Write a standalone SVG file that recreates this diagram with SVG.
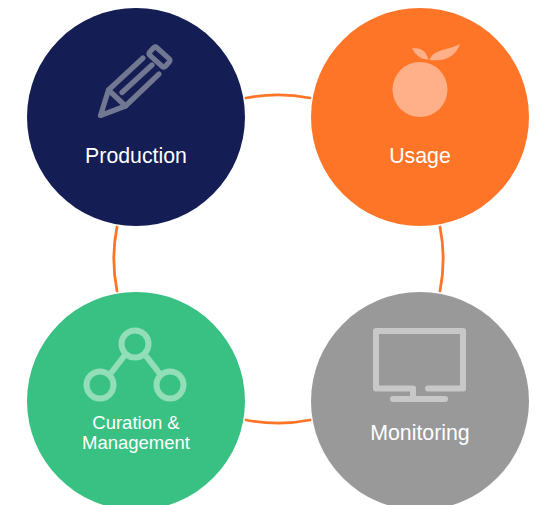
<svg xmlns="http://www.w3.org/2000/svg" width="540" height="505" viewBox="0 0 540 505">
<style>
text{font-family:"Liberation Sans",Arial,sans-serif;fill:#fff;text-anchor:middle}
.lbl{font-size:21.300px}
.small{font-size:18.500px}
.arc{fill:none;stroke:#ff7528;stroke-width:2.800;stroke-linecap:round}
.ic{fill:none;stroke-linecap:round;stroke-linejoin:round}
</style>
<rect width="540" height="505" fill="#fff"/>
<g id="connectors">
<path class="arc" d="M246 98A164.500 164.500 0 0 1 310 98"/>
<path class="arc" d="M440 227A164.500 164.500 0 0 1 440 291"/>
<path class="arc" d="M310 420A164.500 164.500 0 0 1 246 420"/>
<path class="arc" d="M117 291A164.500 164.500 0 0 1 117 227"/>
</g>
<g id="production">
<circle cx="136" cy="117" r="109" fill="#141e55"/>
<g class="ic" stroke="#727891" stroke-width="5.200">
<rect x="-10.500" y="-5.200" width="21" height="10.400" rx="2" transform="translate(159.500 57) rotate(42)"/>
<path d="M143 58L108.500 90L100.500 115.500L125.500 106L159 74"/>
<path d="M108.500 90L125.500 106"/>
<path d="M122 92.500L152 65"/>
</g>
<text class="lbl" x="136" y="163">Production</text>
</g>
<g id="usage">
<circle cx="420" cy="117" r="109" fill="#ff7528"/>
<circle cx="420" cy="89.500" r="27.500" fill="#ffb088"/>
<path d="M412 48.500C421 47 426 51 428.500 59.500C420 59.500 416 55 412 48.500Z" fill="#ffb088"/>
<path d="M460 44C456 55 447 62 429.500 60C434 49 446 51 460 44Z" fill="#ffb088"/>
<text class="lbl" x="420" y="163">Usage</text>
</g>
<g id="curation-management">
<circle cx="136" cy="401" r="109" fill="#39c183"/>
<g class="ic" stroke="#91deb9" stroke-width="6">
<circle cx="135" cy="344" r="13.500"/>
<circle cx="100" cy="385" r="13.500"/>
<circle cx="170" cy="385" r="13.500"/>
<path d="M125 355L111 373M146 356L160 374" stroke-linecap="butt"/>
</g>
<text class="small" x="136" y="429">Curation &amp;</text>
<text class="small" x="136" y="449">Management</text>
</g>
<g id="monitoring">
<circle cx="420" cy="401" r="109" fill="#999"/>
<g class="ic" stroke="#c8c8c8" stroke-width="6">
<path d="M413 388.500H376V331H463V388.500H428"/>
<path d="M393 399H445"/>
<path d="M413 388.500V399" stroke-linecap="butt"/>
</g>
<text class="lbl" x="420" y="440">Monitoring</text>
</g>
</svg>
